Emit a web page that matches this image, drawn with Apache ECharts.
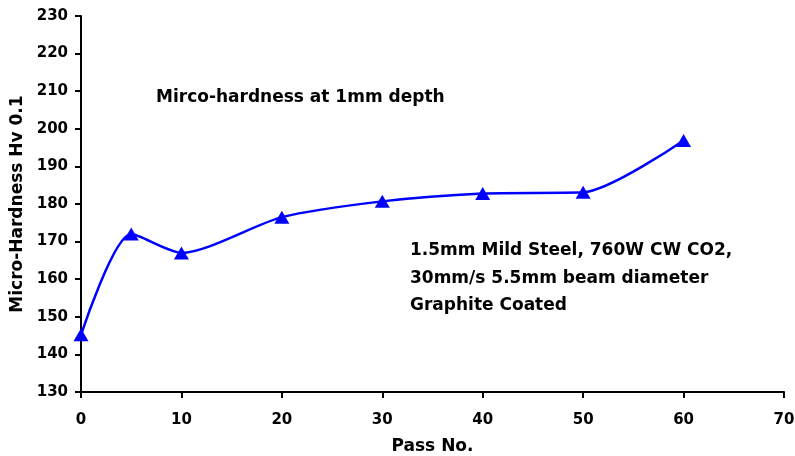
<!DOCTYPE html>
<html>
<head>
<meta charset="utf-8">
<script src="https://cdn.jsdelivr.net/npm/echarts@6/dist/echarts.min.js"></script>
<style>
  html, body { margin: 0; padding: 0; background: #fff; }
  #chart { width: 795px; height: 456px; }
</style>
</head>
<body>
<div id="chart"></div>
<script>
// Micro-hardness versus number of passes
const passNo = [0, 5, 10, 20, 30, 40, 50, 60];
const hardness = [145.2, 172, 167, 176.5, 180.7, 182.8, 183.1, 196.9];

const xTicks = { min: 0, max: 70, interval: 10 };
const yTicks = { min: 130, max: 230, interval: 10 };

const titleText = 'Mirco-hardness at 1mm depth';
const noteLines = [
  '1.5mm Mild Steel, 760W CW CO2,',
  '30mm/s 5.5mm beam diameter',
  'Graphite Coated'
];

const FONT = '"DejaVu Sans", sans-serif';

const chart = echarts.init(document.getElementById('chart'));
chart.setOption({
  animation: false,
  backgroundColor: '#ffffff',
  grid: { left: 81, right: 11, top: 16, bottom: 64, containLabel: false, outerBoundsMode: 'none' },
  xAxis: {
    type: 'value',
    min: xTicks.min, max: xTicks.max, interval: xTicks.interval,
    name: 'Pass No.',
    nameLocation: 'middle',
    nameGap: 46,
    nameTextStyle: { fontFamily: FONT, fontWeight: 'bold', fontSize: 17, color: '#000' },
    axisLine: { show: true, lineStyle: { color: '#000', width: 2 } },
    axisTick: { show: true, length: 6, lineStyle: { color: '#000', width: 2 } },
    axisLabel: { fontFamily: FONT, fontWeight: 'bold', fontSize: 15, color: '#000', margin: 21 },
    splitLine: { show: false }
  },
  yAxis: {
    type: 'value',
    min: yTicks.min, max: yTicks.max, interval: yTicks.interval,
    name: 'Micro-Hardness Hv 0.1',
    nameLocation: 'middle',
    nameGap: 52,
    nameTextStyle: { fontFamily: FONT, fontWeight: 'bold', fontSize: 17, color: '#000' },
    axisLine: { show: true, lineStyle: { color: '#000', width: 2 } },
    axisTick: { show: true, length: 6, lineStyle: { color: '#000', width: 2 } },
    axisLabel: { fontFamily: FONT, fontWeight: 'bold', fontSize: 15, color: '#000', margin: 13 },
    splitLine: { show: false }
  },
  graphic: [
    {
      type: 'text', left: 156, top: 89,
      style: { text: titleText, font: 'bold 17px ' + FONT, fill: '#000' }
    },
    {
      type: 'text', left: 410, top: 237,
      style: { text: noteLines.join('\n'), font: 'bold 17px ' + FONT, fill: '#000', lineHeight: 27.5 }
    }
  ],
  series: [{
    type: 'line',
    data: passNo.map((x, i) => [x, hardness[i]]),
    smooth: 0.25,
    symbol: 'triangle',
    symbolSize: [15, 13],
    lineStyle: { color: '#0000ff', width: 2.5 },
    itemStyle: { color: '#0000ff' }
  }]
});
</script>
</body>
</html>
